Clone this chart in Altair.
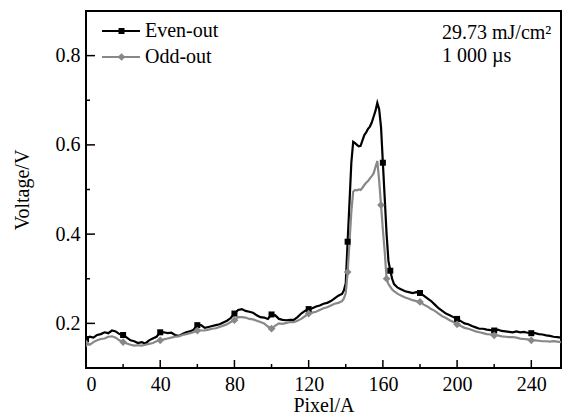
import altair as alt
import pandas as pd

# pixel index (A)
pixel = list(range(0, 136, 2)) + list(range(136, 167)) + list(range(168, 257, 2))

even_out = [
    0.165, 0.170, 0.168, 0.174, 0.176, 0.180, 0.178, 0.184, 0.182, 0.176,
    0.174, 0.168, 0.162, 0.160, 0.156, 0.158, 0.155, 0.162, 0.166, 0.170,
    0.180, 0.180, 0.178, 0.179, 0.174, 0.172, 0.176, 0.180, 0.182, 0.186,
    0.196, 0.196, 0.190, 0.192, 0.194, 0.196, 0.198, 0.202, 0.206, 0.212,
    0.222, 0.230, 0.232, 0.228, 0.226, 0.224, 0.218, 0.214, 0.213, 0.210,
    0.220, 0.218, 0.210, 0.208, 0.207, 0.208, 0.208, 0.214, 0.222, 0.228,
    0.232, 0.234, 0.238, 0.240, 0.244, 0.246, 0.250, 0.256,
    # 136..166 step 1
    0.262, 0.264, 0.266, 0.274, 0.290, 0.383, 0.470, 0.560, 0.607, 0.604,
    0.600, 0.597, 0.598, 0.610, 0.622, 0.628, 0.636, 0.641, 0.650, 0.663,
    0.676, 0.694, 0.680, 0.640, 0.560, 0.480, 0.400, 0.340, 0.318, 0.300,
    0.288,
    # 168..256 step 2
    0.280, 0.276, 0.272, 0.270, 0.268, 0.270, 0.268, 0.262, 0.256, 0.250,
    0.242, 0.234, 0.228, 0.222, 0.218, 0.214, 0.210, 0.205, 0.200, 0.198,
    0.194, 0.191, 0.188, 0.188, 0.186, 0.185, 0.184, 0.186, 0.183, 0.182,
    0.181, 0.180, 0.182, 0.180, 0.181, 0.179, 0.178, 0.178, 0.176, 0.175,
    0.173, 0.172, 0.170, 0.169, 0.168,
]

odd_out = [
    0.155, 0.152, 0.158, 0.162, 0.165, 0.166, 0.170, 0.171, 0.168, 0.162,
    0.158, 0.155, 0.152, 0.150, 0.151, 0.150, 0.152, 0.154, 0.156, 0.160,
    0.162, 0.164, 0.166, 0.168, 0.170, 0.171, 0.174, 0.176, 0.178, 0.180,
    0.184, 0.184, 0.184, 0.186, 0.188, 0.189, 0.192, 0.195, 0.198, 0.203,
    0.207, 0.214, 0.214, 0.213, 0.210, 0.209, 0.206, 0.203, 0.200, 0.193,
    0.188, 0.195, 0.200, 0.199, 0.201, 0.203, 0.203, 0.206, 0.210, 0.216,
    0.222, 0.224, 0.226, 0.230, 0.234, 0.236, 0.240, 0.244,
    # 136..166 step 1
    0.246, 0.248, 0.250, 0.256, 0.268, 0.315, 0.380, 0.450, 0.495, 0.499,
    0.498, 0.500, 0.499, 0.504, 0.510, 0.515, 0.519, 0.525, 0.530, 0.536,
    0.550, 0.564, 0.520, 0.465, 0.410, 0.360, 0.300, 0.288, 0.282, 0.276,
    0.272,
    # 168..256 step 2
    0.266, 0.262, 0.258, 0.255, 0.252, 0.250, 0.248, 0.242, 0.238, 0.232,
    0.228, 0.222, 0.216, 0.212, 0.207, 0.203, 0.198, 0.194, 0.190, 0.188,
    0.185, 0.182, 0.180, 0.178, 0.176, 0.175, 0.173, 0.173, 0.171, 0.170,
    0.169, 0.169, 0.168, 0.166, 0.165, 0.164, 0.162, 0.162, 0.161, 0.160,
    0.160, 0.159, 0.160, 0.159, 0.158,
]

even_markers = [0, 20, 40, 60, 80, 100, 120, 141, 160, 164, 180, 200, 220, 240]
odd_markers = [0, 20, 40, 60, 80, 100, 120, 141, 159, 162, 180, 200, 220, 240]

x_major = [0, 40, 80, 120, 160, 200, 240]
x_minor = [20, 60, 100, 140, 180, 220]
y_major = [0.2, 0.4, 0.6, 0.8]
y_minor = [0.3, 0.5, 0.7]

FONT = "Liberation Serif"
W, H = 475, 357
BLACK = "#000000"
GRAY = "#888888"

df_even = pd.DataFrame({"x": pixel, "y": even_out})
df_odd = pd.DataFrame({"x": pixel, "y": odd_out})
df_even_m = df_even[df_even["x"].isin(even_markers)]
df_odd_m = df_odd[df_odd["x"].isin(odd_markers)]

xs = alt.Scale(domain=[0, 256], nice=False, zero=False)
ys = alt.Scale(domain=[0.1, 0.9], nice=False, zero=False)

xaxis = alt.Axis(values=x_major, format="d", ticks=False, domain=False, grid=False,
                 labelFont=FONT, labelFontSize=20, labelColor="black",
                 labelBaseline="alphabetic", labelPadding=22,
                 title="Pixel/A", titleFont=FONT, titleFontSize=20, titleFontWeight="normal",
                 titleColor="black", titleX=W / 2, titleY=43, titleBaseline="alphabetic")
yaxis = alt.Axis(values=y_major, format=".1f", ticks=False, domain=False, grid=False,
                 labelFont=FONT, labelFontSize=20, labelColor="black", labelPadding=6,
                 title="Voltage/V", titleFont=FONT, titleFontSize=20, titleFontWeight="normal",
                 titleColor="black", titleX=-64, titleY=H / 2, titleAngle=-90,
                 titleAlign="center", titleBaseline="middle")

line_even = alt.Chart(df_even).mark_line(color=BLACK, strokeWidth=2.2, clip=True).encode(
    x=alt.X("x:Q", scale=xs, axis=xaxis),
    y=alt.Y("y:Q", scale=ys, axis=yaxis),
)
line_odd = alt.Chart(df_odd).mark_line(color=GRAY, strokeWidth=2.2, clip=True).encode(
    x=alt.X("x:Q", scale=xs), y=alt.Y("y:Q", scale=ys)
)
pts_even = alt.Chart(df_even_m).mark_point(shape="square", filled=True, color=BLACK,
                                            size=36, opacity=1, clip=True).encode(
    x=alt.X("x:Q", scale=xs), y=alt.Y("y:Q", scale=ys)
)
pts_odd = alt.Chart(df_odd_m).mark_point(shape="diamond", filled=True, color=GRAY,
                                          size=60, opacity=1, clip=True).encode(
    x=alt.X("x:Q", scale=xs), y=alt.Y("y:Q", scale=ys)
)

# inward ticks
def xticks(vals, length):
    return alt.Chart(pd.DataFrame({"v": vals})).mark_rule(color="black", strokeWidth=1.5).encode(
        x=alt.X("v:Q", scale=xs), y=alt.value(H), y2=alt.value(H - length))

def yticks(vals, length):
    return alt.Chart(pd.DataFrame({"v": vals})).mark_rule(color="black", strokeWidth=1.5).encode(
        y=alt.Y("v:Q", scale=ys), x=alt.value(0), x2=alt.value(length))

ticks = [xticks(x_major, 8), xticks(x_minor, 4), yticks(y_major, 9), yticks(y_minor, 4)]

# legend (drawn manually, Origin style)
legend_names = ["Even-out", "Odd-out"]
legend_layers = []
for name, ypos, col, shp, sz in [(legend_names[0], 20, BLACK, "square", 36),
                                 (legend_names[1], 46, GRAY, "diamond", 60)]:
    one = pd.DataFrame({"t": [name]})
    legend_layers.append(alt.Chart(one).mark_rule(color=col, strokeWidth=2).encode(
        x=alt.value(16), x2=alt.value(54), y=alt.value(ypos)))
    legend_layers.append(alt.Chart(one).mark_point(shape=shp, filled=True, color=col,
                                                   size=sz, opacity=1).encode(
        x=alt.value(35.5), y=alt.value(ypos)))
    legend_layers.append(alt.Chart(one).mark_text(font=FONT, fontSize=20, color="black",
                                                  align="left", baseline="middle").encode(
        x=alt.value(59), y=alt.value(ypos), text="t:N"))

note_lines = ["29.73 mJ/cm²", "1 000 µs"]
notes = [
    alt.Chart(pd.DataFrame({"t": [note_lines[0]]})).mark_text(
        font=FONT, fontSize=20, color="black", align="left", baseline="middle").encode(
        x=alt.value(356), y=alt.value(22), text="t:N"),
    alt.Chart(pd.DataFrame({"t": [note_lines[1]]})).mark_text(
        font=FONT, fontSize=20, color="black", align="left", baseline="middle").encode(
        x=alt.value(356), y=alt.value(45), text="t:N"),
]

chart = alt.layer(line_even, line_odd, pts_even, pts_odd, *ticks, *legend_layers, *notes).properties(
    width=W, height=H,
    padding={"left": 86, "top": 11, "right": 7, "bottom": 49},
    autosize="none",
    background="white",
).configure_view(stroke="black", strokeWidth=2)

chart.save("out.html", embed_options={"renderer": "svg", "actions": False})
